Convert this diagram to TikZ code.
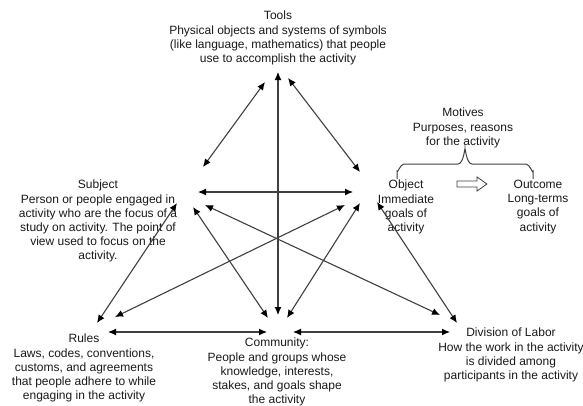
\documentclass[tikz,border=0pt]{standalone}
\usepackage{fontspec}
\setmainfont{Liberation Sans}
\usetikzlibrary{arrows.meta}
\definecolor{ink}{HTML}{1A1A1A}
\definecolor{edge}{HTML}{404040}
\begin{document}
\begin{tikzpicture}[x=1pt,y=-1pt,
  lbl/.style={align=center, inner sep=0pt, anchor=north, text=ink,
    font=\fontsize{12}{14.2}\selectfont},
  tip/.tip={Latex[length=8pt,width=7pt,color=black]},
  link/.style={draw=edge, line width=1.1pt, tip-tip},
  deco/.style={draw=edge, line width=1pt}]
\useasboundingbox[fill=white] (0,0) rectangle (583,405);

% labels
\node[lbl] (tools) at (278,11) {Tools\\Physical objects and systems of symbols\\(like language, mathematics) that people\\use to accomplish the activity};
\node[lbl] (subject) at (98,180) {Subject\\Person or people engaged in\\activity who are the focus of a\\study on activity. The point of\\view used to focus on the\\activity.};
\node[lbl] (rules) at (84,334) {Rules\\Laws, codes, conventions,\\customs, and agreements\\that people adhere to while\\engaging in the activity};
\node[lbl] (community) at (277,338) {Community:\\People and groups whose\\knowledge, interests,\\stakes, and goals shape\\the activity};
\node[lbl] (division) at (511,328) {Division of Labor\\How the work in the activity\\is divided among\\participants in the activity};
\node[lbl] (motives) at (463,108) {Motives\\Purposes, reasons\\for the activity};
\node[lbl] (object) at (406,180) {Object\\Immediate\\goals of\\activity};
\node[lbl] (outcome) at (538,180) {Outcome\\Long-terms\\goals of\\activity};

% connector end points
\coordinate (ts1) at (265,82);  \coordinate (ts2) at (203,167);
\coordinate (to1) at (288,78);  \coordinate (to2) at (360,172);
\coordinate (tc1) at (278,72);  \coordinate (tc2) at (278,315);
\coordinate (so1) at (198,192); \coordinate (so2) at (353,192);
\coordinate (sc1) at (193,207); \coordinate (sc2) at (268,318);
\coordinate (sd1) at (205,205); \coordinate (sd2) at (440,315);
\coordinate (sr1) at (177,203); \coordinate (sr2) at (97,323);
\coordinate (or1) at (345,205); \coordinate (or2) at (115,317);
\coordinate (oc1) at (360,203); \coordinate (oc2) at (287,318);
\coordinate (od1) at (377,202); \coordinate (od2) at (457,323);
\coordinate (rc1) at (108,332); \coordinate (rc2) at (267,332);
\coordinate (cd1) at (293,332); \coordinate (cd2) at (450,332);

% connectors
\draw[link] (ts1) -- (ts2);
\draw[link] (to1) -- (to2);
\draw[link] (tc1) -- (tc2);
\draw[link] (so1) -- (so2);
\draw[link] (sc1) -- (sc2);
\draw[link] (sd1) -- (sd2);
\draw[link] (sr1) -- (sr2);
\draw[link] (or1) -- (or2);
\draw[link] (oc1) -- (oc2);
\draw[link] (od1) -- (od2);
\draw[link] (rc1) -- (rc2);
\draw[link] (cd1) -- (cd2);

% brace under the motives
\draw[deco] (397,179) -- (397,171) to[out=-90,in=180] (404,164) -- (458,164)
  to[out=0,in=90] (465,150) to[out=90,in=180] (472,164) -- (526,164)
  to[out=0,in=-90] (533,171) -- (533,179);

% hollow arrow from object to outcome
\draw[deco, line width=0.8pt] (457,181) -- (477,181) -- (477,177) -- (487,184)
  -- (477,191) -- (477,187) -- (457,187) -- cycle;
\end{tikzpicture}
\end{document}
